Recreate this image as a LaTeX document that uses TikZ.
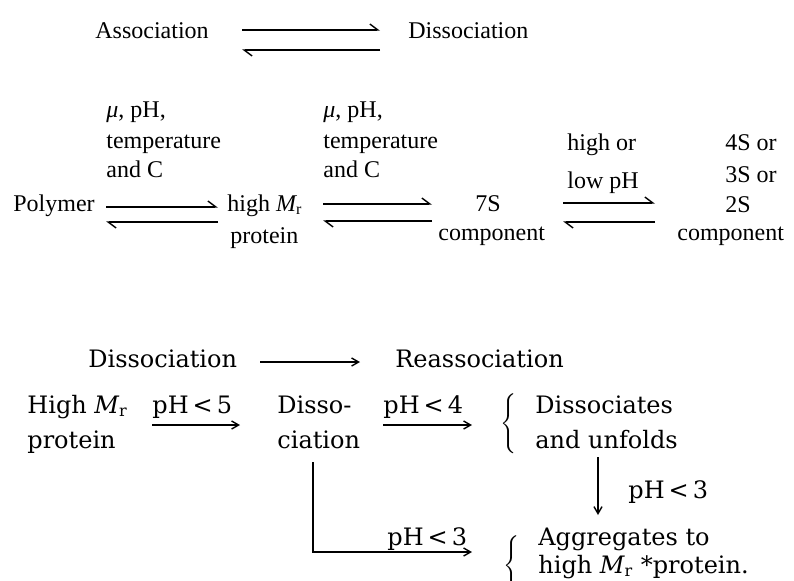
\documentclass[tikz,border=0pt]{standalone}
\usepackage{fontspec}
\setmainfont{Liberation Serif}
\newfontfamily\lowfam{DejaVu Serif}
\usetikzlibrary{arrows.meta}
\tikzset{
  toptxt/.style={font=\fontsize{12}{14}\selectfont,inner sep=0pt,anchor=base west},
  lowtxt/.style={font=\lowfam\fontsize{12}{14}\selectfont,inner sep=0pt,anchor=base west},
  fwd/.style={line width=0.7pt,-{Straight Barb[harpoon,length=4pt,width=6pt]}},
  arr/.style={line width=0.7pt,-{Straight Barb[length=3.5pt,width=4pt]}},
}
\begin{document}
\begin{tikzpicture}[x=0.5pt,y=-0.5pt]
\clip (0,0) rectangle (794,580);

% association / dissociation
\node[toptxt] (assoc) at (95,38) {Association};
\node[toptxt] (dissoc) at (408,38) {Dissociation};
\coordinate (adL1) at (242,30);
\coordinate (adR1) at (380,30);
\coordinate (adL2) at (242,50);
\coordinate (adR2) at (380,50);
\draw[fwd] (adL1) -- (adR1);
\draw[fwd] (adR2) -- (adL2);

% polymer chain
\node[toptxt] (polymer) at (13,211) {Polymer};
\node[toptxt] (highmr) at (227,211) {high {\itshape M}\textsubscript{r}};
\node[toptxt] (prot) at (230,243) {protein};
\node[toptxt] (sevens) at (475,211) {7S};
\node[toptxt] (comp1) at (438,240) {component};
\node[toptxt] (highor) at (567,150) {high or};
\node[toptxt] (lowph) at (567,188) {low pH};
\node[toptxt] (fours) at (725,150) {4S or};
\node[toptxt] (threes) at (725,182) {3S or};
\node[toptxt] (twos) at (725,212) {2S};
\node[toptxt] (comp2) at (677,240) {component};

\foreach \x/\n in {106/1,323/2}
{
\node[toptxt] (mu\n) at (\x,117) {{\itshape μ}, pH,};
\node[toptxt] (temp\n) at (\x,148) {temperature};
\node[toptxt] (andc\n) at (\x,177) {and C};
}

\foreach \a/\b/\u/\l [count=\i] in {106/218/207/222,323/432/204/221,563/655/203/222}
{
\coordinate (eqA\i) at (\a,\u);
\coordinate (eqB\i) at (\b,\u);
\coordinate (eqC\i) at (\b,\l);
\coordinate (eqD\i) at (\a,\l);
\draw[fwd] (eqA\i) -- (eqB\i);
\draw[fwd] (eqC\i) -- (eqD\i);
}

% dissociation / reassociation
\node[lowtxt] (dis) at (88,367) {Dissociation};
\node[lowtxt] (reass) at (395,367) {Reassociation};
\coordinate (drA) at (260,362);
\coordinate (drB) at (360,362);
\draw[arr] (drA) -- (drB);

\node[lowtxt] (high) at (27,413) {High {\itshape M}\textsubscript{r}};
\node[lowtxt] (protb) at (27,448) {protein};
\node[lowtxt] (ph5) at (152,413) {pH\,<\,5};
\node[lowtxt] (disso) at (277,413) {Disso-};
\node[lowtxt] (ciat) at (277,448) {ciation};
\node[lowtxt] (ph4) at (383,413) {pH\,<\,4};
\node[lowtxt] (dissoc2) at (535,413) {Dissociates};
\node[lowtxt] (unfold) at (535,448) {and unfolds};
\node[lowtxt] (ph3a) at (628,498) {pH\,<\,3};
\node[lowtxt] (ph3b) at (387,545) {pH\,<\,3};
\node[lowtxt] (aggr) at (538,545) {Aggregates to};
\node[lowtxt] (hmp) at (538,573) {high {\itshape M}\textsubscript{r} *protein.};

\node[inner sep=0pt] (brace1) at (510,424) {$\left\{\vrule height 14pt depth 13pt width 0pt\right.$};
\node[inner sep=0pt] (brace2) at (513,566) {$\left\{\vrule height 14pt depth 13pt width 0pt\right.$};

\coordinate (p5A) at (152,425);
\coordinate (p5B) at (240,425);
\coordinate (p4A) at (383,425);
\coordinate (p4B) at (472,425);
\coordinate (vA) at (598,457);
\coordinate (vB) at (598,515);
\coordinate (lA) at (313,462);
\coordinate (lB) at (472,552);
\draw[arr] (p5A) -- (p5B);
\draw[arr] (p4A) -- (p4B);
\draw[arr] (vA) -- (vB);
\draw[arr] (lA) |- (lB);
\end{tikzpicture}
\end{document}
